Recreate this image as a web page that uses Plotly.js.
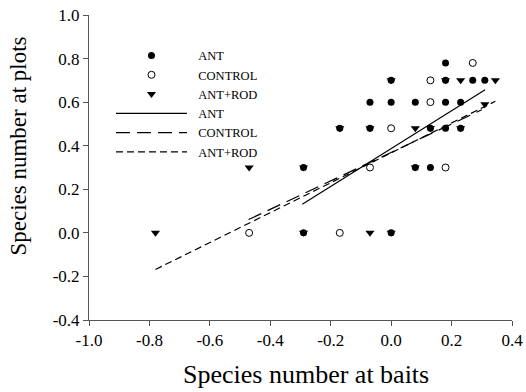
<!DOCTYPE html>
<html><head><meta charset="utf-8">
<script src="https://cdn.plot.ly/plotly-3.0.1.min.js"></script>
<style>body{margin:0;background:#fff}#c{width:526px;height:392px}</style>
</head><body><div id="c"></div>
<script>
// Scatter data
const antX = [0.18, 0.0, 0.18, 0.27, 0.31, -0.07, 0.0, 0.08, 0.18, 0.23, -0.17, -0.07, 0.13, 0.18, 0.23, -0.29, 0.08, 0.13, -0.29, 0.0];
const antY = [0.78, 0.70, 0.70, 0.70, 0.70, 0.60, 0.60, 0.60, 0.60, 0.60, 0.48, 0.48, 0.48, 0.48, 0.48, 0.30, 0.30, 0.30, 0.0, 0.0];
const ctlX = [0.27, 0.13, 0.13, 0.0, -0.07, 0.18, -0.47, -0.17];
const ctlY = [0.78, 0.70, 0.60, 0.48, 0.30, 0.30, 0.0, 0.0];
const rodX = [0.0, 0.18, 0.23, 0.345, 0.31, -0.17, -0.07, 0.08, 0.13, 0.23, -0.47, -0.29, 0.08, -0.78, -0.29, -0.07, 0.0];
const rodY = [0.70, 0.70, 0.70, 0.70, 0.59, 0.48, 0.48, 0.48, 0.48, 0.48, 0.30, 0.30, 0.30, 0.0, 0.0, 0.0, 0.0];
// Regression lines (end points)
const antLineX = [-0.294, 0.311];
const antLineY = [0.131, 0.657];
const ctlLineX = [-0.472, 0.30];
const ctlLineY = [0.061, 0.565];
const rodLineX = [-0.78, 0.345];
const rodLineY = [-0.168, 0.604];
const xTicks = [-1.0, -0.8, -0.6, -0.4, -0.2, 0.0, 0.2, 0.4];
const yTicks = [-0.4, -0.2, 0.0, 0.2, 0.4, 0.6, 0.8, 1.0];
const seriesNames = ['ANT', 'CONTROL', 'ANT+ROD'];
const pad = '\u00a0\u00a0';

const traces = [
  {x: antX, y: antY, mode: 'markers', name: pad + seriesNames[0], marker: {symbol: 'circle', size: 7, color: '#000'}},
  {x: ctlX, y: ctlY, mode: 'markers', name: pad + seriesNames[1], marker: {symbol: 'circle-open', size: 7, color: '#000', line: {width: 1}}},
  {x: rodX, y: rodY, mode: 'markers', name: pad + seriesNames[2], marker: {symbol: 'triangle-down', size: 8, color: '#000'}},
  {x: antLineX, y: antLineY, mode: 'lines', name: pad + seriesNames[0], line: {color: '#000', width: 1.2}},
  {x: ctlLineX, y: ctlLineY, mode: 'lines', name: pad + seriesNames[1], line: {color: '#000', width: 1.2, dash: '14px,7px'}},
  {x: rodLineX, y: rodLineY, mode: 'lines', name: pad + seriesNames[2], line: {color: '#000', width: 1.2, dash: '7px,4px'}}
];
const layout = {
  width: 526, height: 392,
  margin: {l: 89, r: 14, t: 15, b: 72},
  paper_bgcolor: '#fff', plot_bgcolor: '#fff',
  font: {family: 'Liberation Serif, Times New Roman, serif', color: '#000'},
  showlegend: true,
  legend: {x: 0.052, y: 0.915, xanchor: 'left', yanchor: 'top', bgcolor: 'rgba(0,0,0,0)',
           font: {size: 12.5, family: 'Liberation Serif, serif'}, itemwidth: 71, tracegroupgap: 0},
  xaxis: {range: [-1.0, 0.4], tickvals: xTicks, ticktext: xTicks.map(v => v.toFixed(1)),
          showgrid: false, zeroline: false, showline: true, linecolor: '#555', linewidth: 1,
          ticks: 'outside', ticklen: 5, tickcolor: '#555', tickfont: {size: 17}},
  yaxis: {range: [-0.4, 1.0], tickvals: yTicks, ticktext: yTicks.map(v => v.toFixed(1)),
          showgrid: false, zeroline: false, showline: true, linecolor: '#555', linewidth: 1,
          ticks: 'outside', ticklen: 5, tickcolor: '#555', tickfont: {size: 17}},
  annotations: [
    {text: 'Species number at baits', xref: 'paper', yref: 'paper', x: 0.513, y: -0.18,
     xanchor: 'center', yanchor: 'middle', showarrow: false, font: {size: 26}},
    {text: 'Species number at plots', xref: 'paper', yref: 'paper', x: -0.1655, y: 0.572,
     xanchor: 'center', yanchor: 'middle', textangle: -90, showarrow: false, font: {size: 23}}
  ]
};
Plotly.newPlot('c', traces, layout, {staticPlot: true});
</script></body></html>
